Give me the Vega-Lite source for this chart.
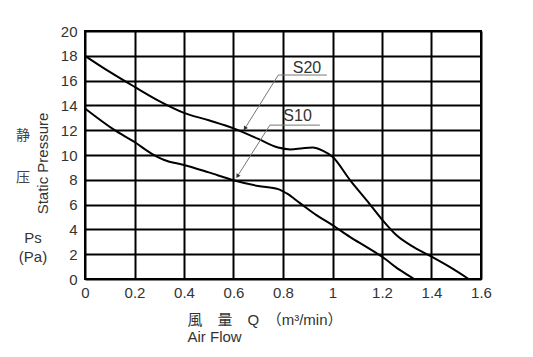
{
  "$schema": "https://vega.github.io/schema/vega-lite/v6.json",
  "width": 396,
  "height": 248,
  "autosize": "none",
  "padding": {"left": 85, "top": 31, "right": 52, "bottom": 78},
  "background": "white",
  "config": {
    "view": {"stroke": "black", "strokeWidth": 2},
    "font": "Liberation Sans"
  },
  "datasets": {
    "curves": [
      {"series": "S20", "q": 0, "p": 18.0},
      {"series": "S20", "q": 0.1, "p": 16.7},
      {"series": "S20", "q": 0.2, "p": 15.5},
      {"series": "S20", "q": 0.3, "p": 14.35},
      {"series": "S20", "q": 0.4, "p": 13.4},
      {"series": "S20", "q": 0.5, "p": 12.8},
      {"series": "S20", "q": 0.6, "p": 12.15},
      {"series": "S20", "q": 0.7, "p": 11.3},
      {"series": "S20", "q": 0.78, "p": 10.6},
      {"series": "S20", "q": 0.83, "p": 10.45},
      {"series": "S20", "q": 0.88, "p": 10.55},
      {"series": "S20", "q": 0.92, "p": 10.6},
      {"series": "S20", "q": 0.96, "p": 10.35},
      {"series": "S20", "q": 1.0, "p": 9.85},
      {"series": "S20", "q": 1.07, "p": 8.0},
      {"series": "S20", "q": 1.14, "p": 6.3},
      {"series": "S20", "q": 1.2, "p": 4.8},
      {"series": "S20", "q": 1.26, "p": 3.5},
      {"series": "S20", "q": 1.33, "p": 2.55},
      {"series": "S20", "q": 1.4, "p": 1.8},
      {"series": "S20", "q": 1.475, "p": 0.95},
      {"series": "S20", "q": 1.55, "p": 0},
      {"series": "S10", "q": 0, "p": 13.75},
      {"series": "S10", "q": 0.12, "p": 12.0},
      {"series": "S10", "q": 0.2, "p": 11.05},
      {"series": "S10", "q": 0.27, "p": 10.1},
      {"series": "S10", "q": 0.32, "p": 9.6},
      {"series": "S10", "q": 0.4, "p": 9.2},
      {"series": "S10", "q": 0.5, "p": 8.6},
      {"series": "S10", "q": 0.6, "p": 7.97},
      {"series": "S10", "q": 0.7, "p": 7.5},
      {"series": "S10", "q": 0.78, "p": 7.25},
      {"series": "S10", "q": 0.815, "p": 6.9},
      {"series": "S10", "q": 0.87, "p": 6.1},
      {"series": "S10", "q": 0.935, "p": 5.15},
      {"series": "S10", "q": 1.0, "p": 4.35},
      {"series": "S10", "q": 1.07, "p": 3.4},
      {"series": "S10", "q": 1.14, "p": 2.55},
      {"series": "S10", "q": 1.2, "p": 1.8},
      {"series": "S10", "q": 1.27, "p": 0.75},
      {"series": "S10", "q": 1.33, "p": 0}
    ],
    "leaders": [
      {"series": "S20", "qa": 0.781, "pa": 16.45, "qb": 0.977, "pb": 16.45},
      {"series": "S20", "qa": 0.781, "pa": 16.45, "qb": 0.646, "pb": 12.14},
      {"series": "S10", "qa": 0.747, "pa": 12.41, "qb": 0.949, "pb": 12.41},
      {"series": "S10", "qa": 0.747, "pa": 12.41, "qb": 0.616, "pb": 8.29}
    ],
    "arrows": [
      {"series": "S20", "q": 0.646, "p": 12.14},
      {"series": "S10", "q": 0.616, "p": 8.29}
    ],
    "labels": [
      {"series": "S20", "q": 0.897, "p": 17.0},
      {"series": "S10", "q": 0.859, "p": 13.13}
    ]
  },
  "layer": [
    {
      "data": {"name": "curves"},
      "mark": {"type": "line", "color": "black", "strokeWidth": 2, "interpolate": "monotone"},
      "encoding": {
        "x": {
          "field": "q", "type": "quantitative",
          "scale": {"domain": [0, 1.6], "nice": false, "zero": false},
          "axis": {
            "values": [0, 0.2, 0.4, 0.6, 0.8, 1, 1.2, 1.4, 1.6],
            "format": "~g",
            "labelFontSize": 15, "labelColor": "#333", "labelPadding": 6, "labelFlush": false, "labelOverlap": false,
            "ticks": false, "domain": false,
            "grid": true, "gridColor": "black", "gridWidth": 2, "gridOpacity": 1,
            "title": ["風　量　Q　（m³/min）", "Air Flow"],
            "titleFont": "Liberation Sans, Noto Sans CJK SC",
            "titleFontSize": 15, "titleFontWeight": "normal", "titleColor": "#333",
            "titleAlign": "left", "titleAnchor": "start", "titleBaseline": "top",
            "titleX": 102, "titleY": 33, "titleLineHeight": 17
          }
        },
        "y": {
          "field": "p", "type": "quantitative",
          "scale": {"domain": [0, 20], "nice": false},
          "axis": {
            "values": [0, 2, 4, 6, 8, 10, 12, 14, 16, 18, 20],
            "tickCount": 11,
            "labelFontSize": 15, "labelColor": "#333", "labelPadding": 8, "labelOverlap": false,
            "ticks": false, "domain": false,
            "grid": true, "gridColor": "black", "gridWidth": 2, "gridOpacity": 1,
            "title": "Static Pressure",
            "titleFontSize": 15, "titleFontWeight": "normal", "titleColor": "#333",
            "titleAngle": 270, "titleAlign": "center", "titleBaseline": "middle",
            "titleX": -42.5, "titleY": 132
          }
        },
        "detail": {"field": "series"}
      }
    },
    {
      "data": {"name": "leaders"},
      "mark": {"type": "rule", "color": "#777", "strokeWidth": 1},
      "encoding": {
        "x": {"field": "qa", "type": "quantitative"},
        "y": {"field": "pa", "type": "quantitative"},
        "x2": {"field": "qb"},
        "y2": {"field": "pb"}
      }
    },
    {
      "data": {"name": "arrows"},
      "mark": {"type": "point", "shape": "triangle-up", "filled": true, "color": "#333", "size": 22, "angle": 212, "opacity": 1},
      "encoding": {
        "x": {"field": "q", "type": "quantitative"},
        "y": {"field": "p", "type": "quantitative"}
      }
    },
    {
      "data": {"name": "labels"},
      "mark": {"type": "text", "fontSize": 16, "color": "#333", "align": "center", "baseline": "middle"},
      "encoding": {
        "x": {"field": "q", "type": "quantitative"},
        "y": {"field": "p", "type": "quantitative"},
        "text": {"field": "series"}
      }
    },
    {
      "data": {"values": [{}]},
      "mark": {"type": "text", "text": "静", "font": "Noto Sans CJK SC", "fontSize": 14, "color": "#444", "align": "center", "baseline": "middle"},
      "encoding": {
        "x": {"datum": -0.251},
        "y": {"datum": 11.52}
      }
    },
    {
      "data": {"values": [{}]},
      "mark": {"type": "text", "text": "压", "font": "Noto Sans CJK SC", "fontSize": 14, "color": "#444", "align": "center", "baseline": "middle"},
      "encoding": {
        "x": {"datum": -0.251},
        "y": {"datum": 8.13}
      }
    },
    {
      "data": {"values": [{}]},
      "mark": {"type": "text", "text": ["Ps", "(Pa)"], "fontSize": 15, "color": "#333", "align": "center", "baseline": "top", "lineHeight": 19},
      "encoding": {
        "x": {"datum": -0.21},
        "y": {"datum": 3.85}
      }
    }
  ]
}
